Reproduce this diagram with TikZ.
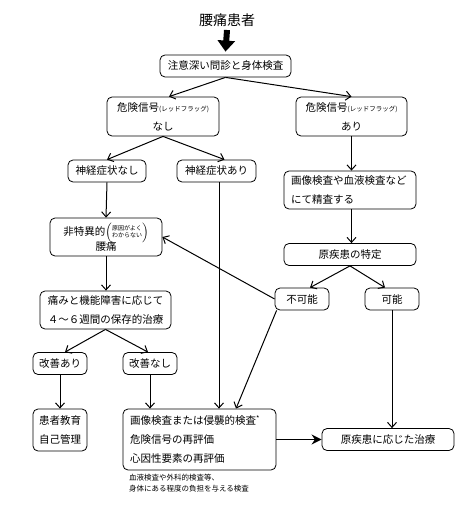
\documentclass[tikz,border=0pt]{standalone}
\usepackage{amsmath}
\usepackage{fontspec}
\setmainfont{Noto Sans CJK JP}
\usetikzlibrary{arrows.meta}

\tikzset{
  caixa/.style={draw, rounded corners=5pt, line width=0.8pt, minimum height=22pt,
    inner sep=2pt, align=center, font=\fontsize{10.5}{19}\selectfont},
  seta/.style={->, line width=1pt},
}

\begin{document}
\begin{tikzpicture}[x=1pt, y=-1pt, >={Straight Barb[length=5pt,width=9pt]}]
    \useasboundingbox (0,0) rectangle (474,508);

    % Caixas
    \node (title) at (227,20) {\fontsize{14}{16}\selectfont 腰痛患者};
    \node[caixa, minimum width=131pt] (exam) at (225.5,66) {注意深い問診と身体検査};
    \node[caixa, minimum width=112pt, minimum height=39pt] (rfno) at (163,116.5)
        {危険信号{\fontsize{6.5}{7}\selectfont (レッドフラッグ)}\\なし};
    \node[caixa, minimum width=111pt, minimum height=39pt] (rfyes) at (351.5,116.5)
        {危険信号{\fontsize{6.5}{7}\selectfont (レッドフラッグ)}\\あり};
    \node[caixa, minimum width=78pt] (nsno) at (107,171) {神経症状なし};
    \node[caixa, minimum width=79pt] (nsyes) at (216.5,171) {神経症状あり};
    \node[caixa, align=left, text width=118pt, inner xsep=7pt, minimum height=38pt] (scan) at (350,190)
        {画像検査や血液検査など\\にて精査する};
    \node[caixa, minimum width=112pt, minimum height=38pt] (nonspec) at (106,237)
        {非特異的$\left(\vcenter{\hbox{\fontsize{6}{7.5}\selectfont
          \begin{tabular}{@{}c@{}}原因がよく\\わからない\end{tabular}}}\right)$\\[-4pt]腰痛};
    \node[caixa, minimum width=132pt] (origin) at (350,254.5) {原疾患の特定};
    \node[caixa, minimum width=131pt, minimum height=38pt] (conserv) at (105.5,310)
        {痛みと機能障害に応じて\\４～６週間の保存的治療};
    \node[caixa, minimum width=54pt] (impossible) at (302,299) {不可能};
    \node[caixa, minimum width=54pt] (possible) at (392,299) {可能};
    \node[caixa, minimum width=54pt] (improved) at (60,363.5) {改善あり};
    \node[caixa, minimum width=54pt] (notimproved) at (150,363.5) {改善なし};
    \node[caixa, minimum width=54pt, minimum height=42pt] (educ) at (60,430) {患者教育\\自己管理};
    \node[caixa, align=left, text width=139pt, inner xsep=7pt, minimum height=61pt] (reeval) at (199.5,439.5)
        {画像検査または侵襲的検査\textsuperscript{*}\\危険信号の再評価\\心因性要素の再評価};
    \node[caixa, minimum width=132pt] (treat) at (388,439.5) {原疾患に応じた治療};
    \node[anchor=west, align=left, inner sep=0pt, font=\fontsize{7.5}{11}\selectfont] (note) at (129,483.5)
        {血液検査や外科的検査等、\\身体にある程度の負担を与える検査};

    % Setas
    \draw[line width=6pt, -{Triangle[width=17pt,length=11pt]}] (title.south) -- ([yshift=3pt]exam.north);
    \draw[seta] (exam.south) -- ([xshift=6pt]rfno.north);
    \draw[seta] (exam.south) -- (rfyes.north);
    \draw[seta] (rfno.south) -- (nsno.north);
    \draw[seta] (rfno.south) -- ([xshift=8pt]nsyes.north);
    \draw[seta] (rfyes.south) -- (rfyes.south |- scan.north);
    \draw[seta] (nsno.south) -- (nonspec.north);
    \draw[seta] (scan.south -| rfyes.south) -- (rfyes.south |- origin.north);
    \draw[seta] (nonspec.south) -- (nonspec.south |- conserv.north);
    \draw[seta] (origin.south) -- ([xshift=8pt]impossible.north);
    \draw[seta] (origin.south) -- ([xshift=-7pt]possible.north);
    \draw[seta] (impossible.west) -- (nonspec.east);
    \draw[seta] (conserv.south) -- ([xshift=5pt]improved.north);
    \draw[seta] (conserv.south) -- ([xshift=-2pt]notimproved.north);
    \draw[seta] (improved.south) -- (educ.north);
    \draw[seta] (notimproved.south) -- (notimproved.south |- reeval.north);
    \draw[seta] ([xshift=2.5pt]nsyes.south) -- ([xshift=2.5pt]nsyes.south |- reeval.north);
    \draw[seta] ([xshift=2pt]impossible.south west) -- ([xshift=36.5pt]reeval.north);
    \draw[seta] (possible.south) -- (possible.south |- treat.north);
    \draw[line width=1.5pt, -{Stealth[length=10pt,width=10pt]}] (reeval.east) -- (treat.west);
\end{tikzpicture}
\end{document}
